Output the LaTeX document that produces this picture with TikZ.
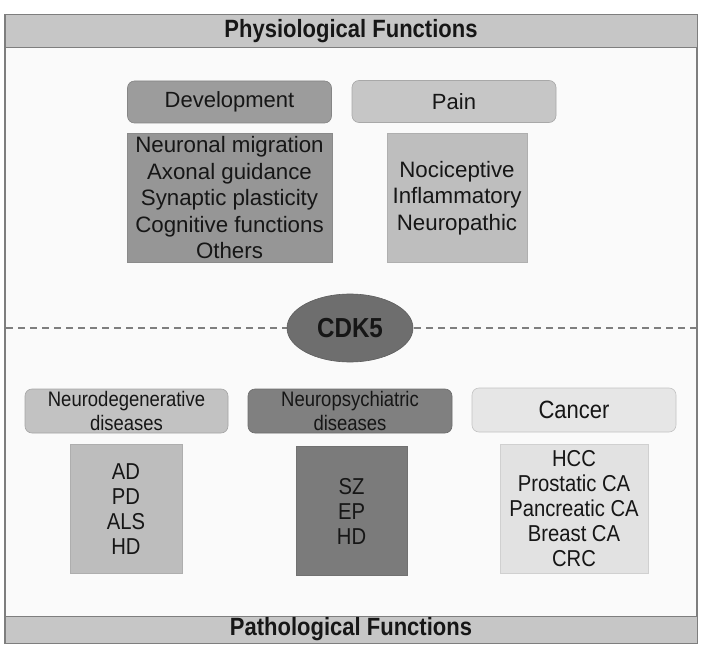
\documentclass[tikz,border=0pt]{standalone}
\usepackage{fontspec}
\setmainfont{Liberation Sans}
\newfontfamily\narrowfont[FakeStretch=0.88]{Liberation Sans}
\usetikzlibrary{shapes.geometric}

\definecolor{framegray}{HTML}{7E7E7E}
\definecolor{bodygray}{HTML}{FAFAFA}
\definecolor{bargray}{HTML}{C6C6C6}
\definecolor{textgray}{HTML}{161616}
\definecolor{devgray}{HTML}{9C9C9C}
\definecolor{devlist}{HTML}{969696}
\definecolor{paingray}{HTML}{C6C6C6}
\definecolor{painlist}{HTML}{BEBEBE}
\definecolor{cdkgray}{HTML}{6E6E6E}
\definecolor{ndgray}{HTML}{C2C2C2}
\definecolor{npgray}{HTML}{808080}
\definecolor{cagray}{HTML}{E6E6E6}
\definecolor{ndlist}{HTML}{BDBDBD}
\definecolor{nplist}{HTML}{7B7B7B}
\definecolor{calist}{HTML}{E2E2E2}

\begin{document}
\begin{tikzpicture}[
            x = 1pt, y = -1pt,
            every node/.style={text=textgray, inner sep=0pt, align=center},
            bar/.style={fill=bargray, draw=framegray, line width=1pt, minimum width=692pt,
                font=\narrowfont\bfseries\fontsize{25}{28}\selectfont},
            head/.style={rounded corners=7pt, draw=#1!85!black, line width=.6pt, fill=#1,
                minimum width=204pt, minimum height=42pt, font=\fontsize{22}{26}\selectfont},
            subhead/.style={head=#1, minimum height=44pt, font=\narrowfont\fontsize{21}{24}\selectfont},
            list/.style={fill=#1, draw=#1!92!black, line width=.5pt, minimum height=129pt},
            toplist/.style={list=#1, font=\fontsize{22.3}{26.5}\selectfont},
            botlist/.style={list=#1, font=\narrowfont\fontsize{23}{25}\selectfont},
            line/.style={framegray, line width=1.2pt, dash pattern=on 7pt off 5pt},
            ]

        \fill[white] (0, 0) rectangle (704, 650);
        \draw[framegray, fill=bodygray, line width=1.5pt] (5, 15) rectangle (697, 643);

        \node[bar, minimum height=33pt] (phys) at (351, 31.5) {Physiological Functions};
        \node[bar, minimum height=27pt] (patho) at (351, 629.5) {Pathological Functions};

        % physiological side
        \node[head=devgray] (dev) at (229.5, 102) {Development};
        \node[head=paingray] (pain) at (454, 101.5) {Pain};
        \node[toplist=devlist, minimum width=205pt] (devl) at (229.5, 198)
            {Neuronal migration\\Axonal guidance\\Synaptic plasticity\\Cognitive functions\\Others};
        \node[toplist=painlist, minimum width=140pt] (painl) at (457, 198)
            {Nociceptive\\Inflammatory\\Neuropathic};

        % cdk5 on the divide
        \coordinate (dl) at (6, 328);
        \coordinate (dr) at (696, 328);
        \draw[line] (dl) -- (dr);
        \node[ellipse, fill=cdkgray, draw=cdkgray!85!black, line width=.6pt,
            minimum width=126pt, minimum height=68pt,
            font=\narrowfont\bfseries\fontsize{27.5}{30}\selectfont] (cdk) at (350, 328) {CDK5};

        % pathological side
        \node[subhead=ndgray, minimum width=203pt] (nd) at (126.5, 411) {Neurodegenerative\\diseases};
        \node[subhead=npgray] (np) at (350, 411) {Neuropsychiatric\\diseases};
        \node[head=cagray, minimum height=44pt, font=\narrowfont\fontsize{25}{28}\selectfont] (ca) at (574, 410) {Cancer};

        \node[botlist=ndlist, minimum width=112pt] (ndl) at (126, 509) {AD\\PD\\ALS\\HD};
        \node[botlist=nplist, minimum width=111pt] (npl) at (351.5, 511) {SZ\\EP\\HD};
        \node[botlist=calist, minimum width=148pt] (cal) at (574, 509)
            {HCC\\Prostatic CA\\Pancreatic CA\\Breast CA\\CRC};

        \useasboundingbox (0, 0) rectangle (704, 650);
    \end{tikzpicture}
\end{document}
